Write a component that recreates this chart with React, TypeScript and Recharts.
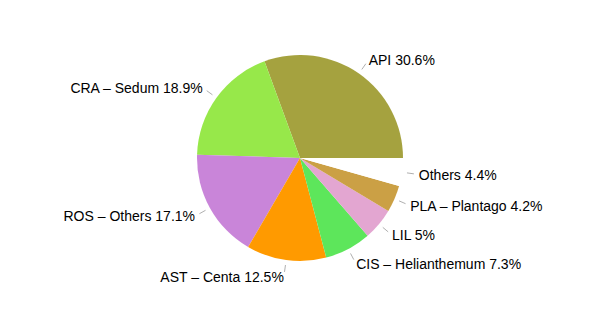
import React from "react";
import { PieChart, Pie, Cell } from "recharts";

const categories = [
  "API",
  "CRA – Sedum",
  "ROS – Others",
  "AST – Centa",
  "CIS – Helianthemum",
  "LIL",
  "PLA – Plantago",
  "Others",
];
const shares = [30.6, 18.9, 17.1, 12.5, 7.3, 5, 4.2, 4.4];
const colors = [
  "#A5A23F",
  "#97E84A",
  "#C985D9",
  "#FF9A00",
  "#5DE65B",
  "#E3A6D1",
  "#CBA045",
  "#FFFFFF",
];

const data = categories.map((name, i) => ({ name, value: shares[i] }));

const RADIAN = Math.PI / 180;

const renderLabel = (props: any) => {
  const { cx, cy, midAngle, outerRadius, payload } = props;
  const cos = Math.cos(-midAngle * RADIAN);
  const sin = Math.sin(-midAngle * RADIAN);
  const r1 = outerRadius + 5;
  const r2 = outerRadius + 12;
  const r3 = outerRadius + 17;
  const x1 = cx + r1 * cos;
  const y1 = cy + r1 * sin;
  const x2 = cx + r2 * cos;
  const y2 = cy + r2 * sin;
  const tx = cx + r3 * cos;
  const ty = cy + r3 * sin;
  return (
    <g>
      <line x1={x1} y1={y1} x2={x2} y2={y2} stroke="#9a9a9a" strokeWidth={0.8} />
      <text
        x={tx}
        y={ty}
        textAnchor={cos >= 0 ? "start" : "end"}
        dominantBaseline="central"
        fill="#000"
        fontSize={14}
        fontFamily="'Liberation Sans', Arial, Helvetica, sans-serif"
      >
        {`${payload.name} ${payload.value}%`}
      </text>
    </g>
  );
};

export default function App() {
  return (
    <div style={{ position: "absolute", left: 0, top: 0, width: 600, height: 310, background: "#fff" }}>
      <PieChart width={600} height={310}>
        <Pie
          data={data}
          dataKey="value"
          nameKey="name"
          cx={295}
          cy={153}
          outerRadius={103}
          startAngle={0}
          endAngle={360}
          stroke="none"
          label={renderLabel}
          labelLine={false}
          isAnimationActive={false}
        >
          {data.map((d, i) => (
            <Cell key={d.name} fill={colors[i]} />
          ))}
        </Pie>
      </PieChart>
    </div>
  );
}
